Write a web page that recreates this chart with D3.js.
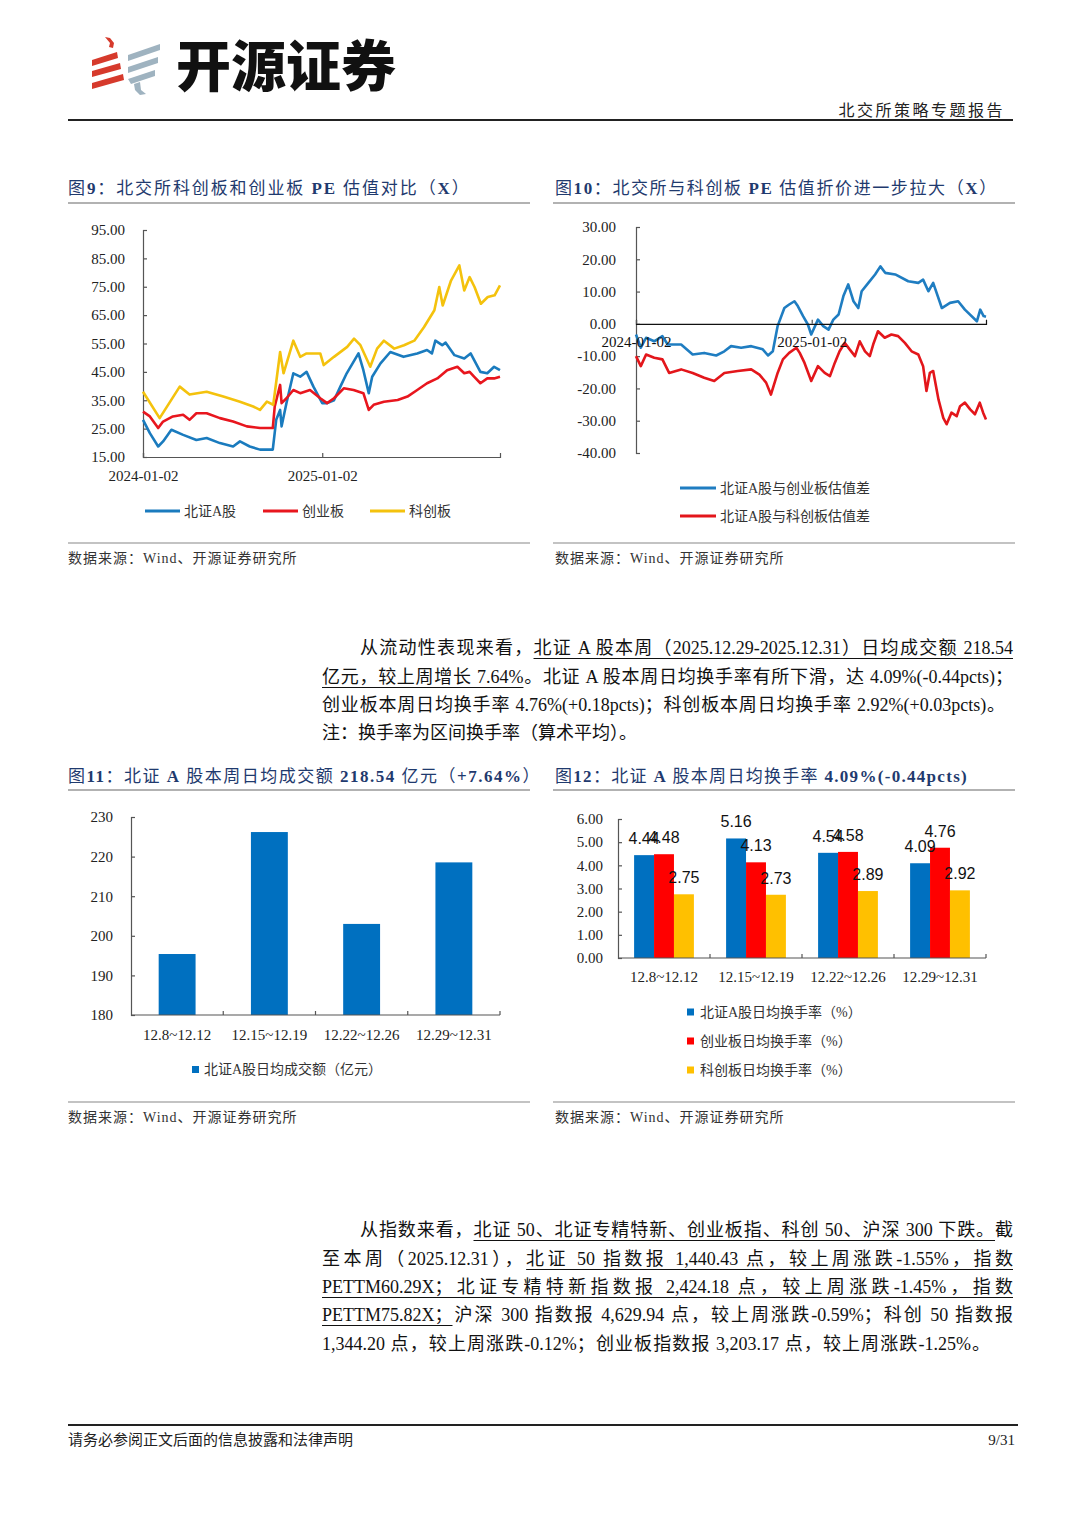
<!DOCTYPE html>
<html><head><meta charset="utf-8">
<script src="https://cdn.jsdelivr.net/npm/d3@7"></script>
<style>
html,body{margin:0;padding:0;background:#fff;}
#page{position:relative;width:1080px;height:1527px;overflow:hidden;background:#fff;}
svg{position:absolute;left:0;top:0;}
.ln{position:absolute;font-family:"Liberation Serif","Noto Sans CJK SC",serif;font-size:18px;line-height:28px;height:28px;color:#111;white-space:nowrap;}
.j{text-align:justify;text-align-last:justify;}
.ln u{text-decoration:underline;text-underline-offset:4px;text-decoration-thickness:1px;}
</style></head>
<body><div id="page"></div>
<script>
// ---------------- DATA ----------------
// Fig 9: PE (TTM) of 北证A股 / 创业板 / 科创板
const bjA_PE = [["2024-01-02",28.1],["2024-01-16",23.4],["2024-02-02",18.7],["2024-02-12",20.5],["2024-02-29",24.6],["2024-03-24",22.8],["2024-04-20",21.0],["2024-05-11",21.7],["2024-06-07",19.9],["2024-07-04",18.7],["2024-07-18",20.5],["2024-08-07",18.7],["2024-08-28",17.6],["2024-09-23",17.6],["2024-09-30",28.1],["2024-10-08",31.6],["2024-10-11",25.8],["2024-10-21",34.0],["2024-11-04",44.5],["2024-11-18",43.3],["2024-12-01",45.0],["2024-12-15",39.8],["2025-01-02",34.0],["2025-01-12",34.0],["2025-01-26",35.0],["2025-02-08",39.8],["2025-02-21",44.5],["2025-03-17",51.5],["2025-03-27",45.6],["2025-04-07",37.5],["2025-04-14",43.3],["2025-05-01",48.0],["2025-05-21",52.0],["2025-06-17",50.3],["2025-07-15",51.5],["2025-08-04",52.7],["2025-08-14",51.5],["2025-08-21",56.0],["2025-09-04",54.4],["2025-09-11",55.3],["2025-09-29",50.9],["2025-10-19",49.7],["2025-11-01",51.5],["2025-11-08",49.2],["2025-11-21",45.0],["2025-12-05",44.5],["2025-12-19",46.8],["2025-12-31",45.6]];
const cyb_PE = [["2024-01-02",31.0],["2024-01-16",29.3],["2024-02-02",25.2],["2024-02-12",27.5],["2024-03-03",29.3],["2024-03-24",29.9],["2024-04-06",28.1],["2024-04-20",30.4],["2024-05-11",30.4],["2024-06-07",28.7],["2024-07-04",27.5],["2024-08-01",25.8],["2024-08-28",25.2],["2024-09-23",25.2],["2024-09-27",32.8],["2024-10-08",40.4],["2024-10-11",34.0],["2024-10-21",35.7],["2024-11-04",38.6],["2024-11-18",37.5],["2024-12-08",38.6],["2024-12-29",35.7],["2025-01-12",34.0],["2025-01-26",35.7],["2025-02-15",39.2],["2025-03-07",38.6],["2025-03-27",37.5],["2025-04-07",31.6],["2025-04-17",33.4],["2025-05-08",34.5],["2025-06-05",35.1],["2025-06-25",36.3],["2025-07-15",38.6],["2025-08-04",41.0],["2025-08-25",42.7],["2025-09-14",45.6],["2025-10-05",46.8],["2025-10-19",44.5],["2025-10-30",45.0],["2025-11-08",43.3],["2025-11-21",41.0],["2025-12-05",42.7],["2025-12-19",42.7],["2025-12-31",43.3]];
const kcb_PE = [["2024-01-02",38.0],["2024-02-05",28.7],["2024-03-17",39.8],["2024-04-06",37.0],["2024-05-11",38.0],["2024-06-14",36.3],["2024-07-18",34.5],["2024-08-14",32.8],["2024-08-28",31.6],["2024-09-11",34.5],["2024-09-24",33.4],["2024-10-08",52.0],["2024-10-15",44.5],["2024-11-04",56.0],["2024-11-18",50.3],["2024-12-01",51.5],["2024-12-29",51.5],["2025-01-05",47.4],["2025-01-26",50.3],["2025-02-22",53.8],["2025-03-08",56.7],["2025-03-21",54.4],["2025-04-10",46.8],["2025-04-24",53.2],["2025-05-08",56.0],["2025-05-29",53.2],["2025-06-18",54.4],["2025-07-09",56.0],["2025-07-29",60.8],["2025-08-19",66.7],["2025-08-29",74.9],["2025-09-05",68.4],["2025-09-22",77.2],["2025-10-09",82.5],["2025-10-19",73.7],["2025-10-30",78.4],["2025-11-09",74.9],["2025-11-22",69.0],["2025-12-06",71.4],["2025-12-20",72.0],["2025-12-31",75.5]];
const fig9YTicks = [15,25,35,45,55,65,75,85,95];
const fig9XTicks = ["2024-01-02","2025-01-02"];
const fig9Names = ["北证A股","创业板","科创板"];

// Fig 10: PE gaps
const gapVsCyb = [["2024-01-02",-3.3],["2024-01-12",-7.4],["2024-01-23",-4.3],["2024-02-09",-5.4],["2024-02-26",-3.8],["2024-03-08",-6.4],["2024-04-05",-6.4],["2024-04-29",-9.5],["2024-05-23",-9.0],["2024-06-17",-9.8],["2024-07-04",-8.5],["2024-07-18",-6.9],["2024-08-08",-7.4],["2024-08-29",-6.9],["2024-09-22",-7.9],["2024-10-03",-9.8],["2024-10-13",-8.5],["2024-10-23",-0.7],["2024-11-06",4.9],["2024-11-16",6.0],["2024-11-27",7.0],["2024-12-04",5.5],["2024-12-15",2.4],["2024-12-25",-0.2],["2025-01-01",-3.3],["2025-01-15",1.3],["2025-01-26",-0.7],["2025-02-06",-1.8],["2025-02-16",1.3],["2025-02-27",2.9],["2025-03-09",8.6],["2025-03-19",12.2],["2025-03-30",7.0],["2025-04-09",4.9],["2025-04-16",10.1],["2025-04-30",12.7],["2025-05-14",15.3],["2025-05-25",17.8],["2025-06-04",15.8],["2025-06-25",15.3],["2025-07-22",13.2],["2025-08-12",12.7],["2025-08-22",13.7],["2025-09-02",10.1],["2025-09-12",12.7],["2025-09-30",4.9],["2025-10-17",6.5],["2025-11-03",7.0],["2025-11-17",4.4],["2025-12-12",0.8],["2025-12-19",4.4],["2025-12-26",2.4],["2025-12-31",2.2]];
const gapVsKcb = [["2024-01-02",-10.0],["2024-01-12",-13.1],["2024-01-23",-9.5],["2024-02-09",-10.5],["2024-02-26",-11.0],["2024-03-11",-15.2],["2024-04-05",-14.1],["2024-04-29",-15.2],["2024-05-23",-16.7],["2024-06-13",-17.7],["2024-07-04",-15.2],["2024-08-01",-14.6],["2024-08-29",-14.1],["2024-09-15",-15.7],["2024-09-29",-18.2],["2024-10-09",-21.9],["2024-10-23",-15.2],["2024-11-03",-11.0],["2024-11-16",-9.0],["2024-12-01",-7.4],["2024-12-08",-9.0],["2024-12-18",-12.1],["2025-01-01",-17.7],["2025-01-15",-13.1],["2025-01-29",-15.2],["2025-02-09",-16.2],["2025-02-19",-12.1],["2025-03-01",-8.5],["2025-03-12",-5.9],["2025-03-22",-7.9],["2025-04-02",-10.0],["2025-04-12",-5.4],["2025-04-23",-8.5],["2025-05-03",-10.0],["2025-05-10",-6.4],["2025-05-20",-2.3],["2025-06-03",-4.3],["2025-06-17",-3.3],["2025-07-01",-3.8],["2025-07-15",-5.9],["2025-07-29",-8.5],["2025-08-12",-9.5],["2025-08-22",-13.1],["2025-08-29",-20.8],["2025-09-05",-15.2],["2025-09-12",-14.6],["2025-09-23",-23.4],["2025-10-03",-29.1],["2025-10-10",-31.1],["2025-10-20",-27.5],["2025-10-31",-28.6],["2025-11-07",-25.5],["2025-11-17",-24.4],["2025-11-28",-26.5],["2025-12-08",-28.0],["2025-12-18",-24.4],["2025-12-25",-27.5],["2025-12-31",-29.6]];
const fig10YTicks = [-40,-30,-20,-10,0,10,20,30];
const fig10XTicks = ["2024-01-02","2025-01-02"];
const fig10Names = ["北证A股与创业板估值差","北证A股与科创板估值差"];

// Fig 11 / 12: weekly data
const weeks = ["12.8~12.12","12.15~12.19","12.22~12.26","12.29~12.31"];
const bjAmount = [195.4, 226.2, 203.0, 218.54];
const fig11YTicks = [180,190,200,210,220,230];
const fig11Name = "北证A股日均成交额（亿元）";
const bjTurnover  = [4.44, 5.16, 4.54, 4.09];
const cybTurnover = [4.48, 4.13, 4.58, 4.76];
const kcbTurnover = [2.75, 2.73, 2.89, 2.92];
const fig12YTicks = [0,1,2,3,4,5,6];
const fig12Names = ["北证A股日均换手率（%）","创业板日均换手率（%）","科创板日均换手率（%）"];

// ---------------- DRAW ----------------
const SERIF = '"Liberation Serif","Noto Sans CJK SC",serif';
const CJK = '"Noto Sans CJK SC",sans-serif';
const SANS = '"Liberation Sans","Noto Sans CJK SC",sans-serif';
const NAVY = "#1F3A6E";
const AX = "#555";
const parse = d3.timeParse("%Y-%m-%d");
const fmt2 = d => (+d).toFixed(2);   // plain hyphen minus like the reference
const page = d3.select("#page");
const svg = page.append("svg").attr("width",1080).attr("height",1527);

function hline(x1,x2,y,color,w){svg.append("line").attr("x1",x1).attr("x2",x2).attr("y1",y).attr("y2",y).attr("stroke",color).attr("stroke-width",w);}
function txt(x,y,s,opt={}){
  return svg.append("text").attr("x",x).attr("y",y).text(s)
    .attr("font-family",opt.ff||SERIF).attr("font-size",opt.fs||14)
    .attr("fill",opt.fill||"#333").attr("text-anchor",opt.anchor||"start")
    .attr("dominant-baseline","central").attr("letter-spacing",opt.ls||0)
    .attr("font-weight",opt.fw||"normal");
}
function title(x,y,parts,ls){
  const t=svg.append("text").attr("x",x).attr("y",y).attr("font-family",SERIF).attr("font-size",17)
    .attr("fill",NAVY).attr("dominant-baseline","central").attr("letter-spacing",ls);
  parts.forEach(([s,b])=>t.append("tspan").text(s).attr("font-weight",b?"bold":"normal"));
}
function styleAxis(g){
  g.select(".domain").attr("stroke",AX).attr("stroke-width",1.2);
  g.selectAll(".tick line").attr("stroke",AX).attr("stroke-width",1.2);
  g.selectAll(".tick text").attr("font-family",SERIF).attr("font-size",15).attr("fill","#222");
}

// Header / logo
const logoRed="#D63A2C", logoGray="#9FB3C0";
[[[105,37],[110,38],[114,43],[113,48],[109,47],[110,43]],
 [[92,60],[117,52],[118,58],[92,66]],
 [[92,71],[120,63],[121,69],[92,77]],
 [[92,83],[123,74],[124,80],[92,89]]].forEach(p=>svg.append("polygon").attr("points",p.join(" ")).attr("fill",logoRed));
[[[128,55],[160,44],[160,50],[128,61]],
 [[128,67],[158,57],[158,63],[128,73]],
 [[128,79],[155,70],[155,76],[131,84]],
 [[134,84],[140,82],[141,90],[146,94],[140,95],[135,90]]].forEach(p=>svg.append("polygon").attr("points",p.join(" ")).attr("fill",logoGray));
svg.append("text").attr("x",176).attr("y",86).text("开源证券").attr("font-family",CJK)
  .attr("font-size",55).attr("font-weight",900).attr("fill","#111");
txt(1005,110,"北交所策略专题报告",{fs:16,anchor:"end",ls:2.5,fill:"#222"});
hline(68,1013,120,"#222",2);

// Titles
title(68,188,[["图",0],["9",1],["：北交所科创板和创业板 ",0],["PE",1],[" 估值对比（",0],["X",1],["）",0]],1.9);
title(555,188,[["图",0],["10",1],["：北交所与科创板 ",0],["PE",1],[" 估值折价进一步拉大（",0],["X",1],["）",0]],1.6);
hline(68,530,203,"#999",1.6); hline(553,1015,203,"#999",1.6);
title(68,776,[["图",0],["11",1],["：北证 ",0],["A",1],[" 股本周日均成交额 ",0],["218.54",1],[" 亿元（",0],["+7.64%",1],["）",0]],1.5);
title(555,776,[["图",0],["12",1],["：北证 ",0],["A",1],[" 股本周日均换手率 ",0],["4.09%(-0.44pcts)",1]],1.3);
hline(68,530,790,"#999",1.6); hline(553,1015,790,"#999",1.6);

// Source lines
hline(68,530,543,"#888",1.2); hline(553,1015,543,"#888",1.2);
txt(68,558,"数据来源：Wind、开源证券研究所",{fs:14,ls:1});
txt(555,558,"数据来源：Wind、开源证券研究所",{fs:14,ls:1});
hline(68,530,1102,"#888",1.2); hline(553,1015,1102,"#888",1.2);
txt(68,1117,"数据来源：Wind、开源证券研究所",{fs:14,ls:1});
txt(555,1117,"数据来源：Wind、开源证券研究所",{fs:14,ls:1});

// Footer
hline(68,1018,1425,"#222",2);
txt(68,1440,"请务必参阅正文后面的信息披露和法律声明",{fs:15,fill:"#222"});
txt(1015,1440,"9/31",{fs:15,anchor:"end",fill:"#222"});

// ---------- Fig 9 ----------
{
  const x=d3.scaleTime().domain([parse("2024-01-02"),parse("2025-12-31")]).range([143,500]);
  const y=d3.scaleLinear().domain([15,95]).range([457,230]);
  const gy=svg.append("g").attr("transform","translate(143,0)")
    .call(d3.axisLeft(y).tickValues(fig9YTicks).tickFormat(fmt2).tickSize(-4).tickPadding(18));
  styleAxis(gy);
  const gx=svg.append("g").attr("transform","translate(0,457)")
    .call(d3.axisBottom(x).tickValues(fig9XTicks.map(parse)).tickFormat(d3.timeFormat("%Y-%m-%d")).tickSize(-4).tickPadding(13));
  styleAxis(gx);
  const line=d3.line().x(d=>x(parse(d[0]))).y(d=>y(d[1]));
  const cols=["#1A7BBE","#E8161E","#F4C20D"];
  [bjA_PE,cyb_PE,kcb_PE].forEach((s,i)=>svg.append("path").datum(s).attr("d",line)
    .attr("fill","none").attr("stroke",cols[i]).attr("stroke-width",2.6).attr("stroke-linejoin","round"));
  const lx=[145,263,370];
  fig9Names.forEach((n,i)=>{
    hline(lx[i],lx[i]+35,511,cols[i],3);
    txt(lx[i]+39,511,n,{fs:14,fill:"#333"});
  });
}

// ---------- Fig 10 ----------
{
  const x=d3.scaleTime().domain([parse("2024-01-02"),parse("2025-12-31")]).range([636,986]);
  const y=d3.scaleLinear().domain([-40,30]).range([453,227]);
  const gy=svg.append("g").attr("transform","translate(636,0)")
    .call(d3.axisLeft(y).tickValues(fig10YTicks).tickFormat(fmt2).tickSize(-4).tickPadding(20));
  styleAxis(gy);
  const line=d3.line().x(d=>x(parse(d[0]))).y(d=>y(d[1]));
  const cols=["#1F7DC1","#E3161B"];
  [gapVsCyb,gapVsKcb].forEach((s,i)=>svg.append("path").datum(s).attr("d",line)
    .attr("fill","none").attr("stroke",cols[i]).attr("stroke-width",2.6).attr("stroke-linejoin","round"));
  const gx=svg.append("g").attr("transform",`translate(0,${y(0)})`)
    .call(d3.axisBottom(x).tickValues(fig10XTicks.map(parse)).tickFormat(d3.timeFormat("%Y-%m-%d")).tickSize(-4).tickPadding(13));
  styleAxis(gx);
  gx.select(".domain").attr("stroke","#111");
  gx.selectAll(".tick text").attr("fill","#111");
  fig10Names.forEach((n,i)=>{
    const yy=488+i*28;
    hline(680,716,yy,cols[i],3);
    txt(720,yy,n,{fs:14,fill:"#333"});
  });
}

// ---------- Fig 11 ----------
{
  const x=d3.scaleBand().domain(weeks).range([131,500]).paddingInner(0.6).paddingOuter(0.3);
  const y=d3.scaleLinear().domain([180,230]).range([1015,817]);
  const gy=svg.append("g").attr("transform","translate(131,0)")
    .call(d3.axisLeft(y).tickValues(fig11YTicks).tickFormat(d3.format("d")).tickSize(-4).tickPadding(18));
  styleAxis(gy);
  svg.append("g").selectAll("rect").data(weeks).join("rect")
    .attr("x",d=>x(d)).attr("width",x.bandwidth())
    .attr("y",(d,i)=>y(bjAmount[i])).attr("height",(d,i)=>y(180)-y(bjAmount[i]))
    .attr("fill","#0070C0");
  hline(131,500,1015,AX,1.2);
  const step=x.step();
  [1,2,3,4].forEach(k=>svg.append("line").attr("x1",131+k*step).attr("x2",131+k*step)
    .attr("y1",1015).attr("y2",1011).attr("stroke",AX).attr("stroke-width",1.2));
  weeks.forEach(w=>txt(x(w)+x.bandwidth()/2,1035,w,{fs:15,anchor:"middle",fill:"#222"}));
  svg.append("rect").attr("x",192).attr("y",1066).attr("width",7).attr("height",7).attr("fill","#0070C0");
  txt(204,1069,fig11Name,{fs:14,fill:"#333"});
}

// ---------- Fig 12 ----------
{
  const x=d3.scaleBand().domain(weeks).range([618,986]).paddingInner(0.35).paddingOuter(0.175);
  const keys=["bj","cyb","kcb"];
  const xs=d3.scaleBand().domain(keys).range([0,x.bandwidth()]);
  const y=d3.scaleLinear().domain([0,6]).range([958,819]);
  const gy=svg.append("g").attr("transform","translate(618,0)")
    .call(d3.axisLeft(y).tickValues(fig12YTicks).tickFormat(fmt2).tickSize(-4).tickPadding(15));
  styleAxis(gy);
  const series={bj:bjTurnover,cyb:cybTurnover,kcb:kcbTurnover};
  const cols={bj:"#0070C0",cyb:"#FF0000",kcb:"#FFC000"};
  keys.forEach(k=>{
    svg.append("g").selectAll("rect").data(weeks).join("rect")
      .attr("x",d=>x(d)+xs(k)).attr("width",xs.bandwidth())
      .attr("y",(d,i)=>y(series[k][i])).attr("height",(d,i)=>y(0)-y(series[k][i]))
      .attr("fill",cols[k]);
  });
  keys.forEach(k=>{
    weeks.forEach((w,i)=>{
      svg.append("text").attr("x",x(w)+xs(k)+xs.bandwidth()/2).attr("y",y(series[k][i])-11)
        .attr("text-anchor","middle").attr("font-family",SANS).attr("font-size",16).attr("fill","#111")
        .text(fmt2(series[k][i]));
    });
  });
  hline(618,986,958,AX,1.2);
  const step=x.step();
  [1,2,3,4].forEach(k=>svg.append("line").attr("x1",618+k*step).attr("x2",618+k*step)
    .attr("y1",958).attr("y2",954).attr("stroke",AX).attr("stroke-width",1.2));
  weeks.forEach(w=>txt(x(w)+x.bandwidth()/2,977,w,{fs:15,anchor:"middle",fill:"#222"}));
  keys.forEach((k,i)=>{
    const yy=1012+i*29;
    svg.append("rect").attr("x",687).attr("y",yy-3.5).attr("width",7).attr("height",7).attr("fill",cols[k]);
    txt(700,yy,fig12Names[i],{fs:14,fill:"#333"});
  });
}

// ---------- Body text ----------
const paraLines = [
  [360,634,653,true,'从流动性表现来看，<u>北证 A 股本周（2025.12.29-2025.12.31）日均成交额 218.54</u>'],
  [322,663,691,true,'<u>亿元，较上周增长 7.64%</u>。北证 A 股本周日均换手率有所下滑，达 4.09%(-0.44pcts)；'],
  [322,691,683,true,'创业板本周日均换手率 4.76%(+0.18pcts)；科创板本周日均换手率 2.92%(+0.03pcts)。'],
  [322,719,0,false,'注：换手率为区间换手率（算术平均）。'],
  [360,1216,653,true,'从指数来看，<u>北证 50、北证专精特新、创业板指、科创 50、沪深 300 下跌。</u>截'],
  [322,1245,691,true,'至本周（2025.12.31），<u>北证 50 指数报 1,440.43 点，较上周涨跌-1.55%，指数</u>'],
  [322,1273,691,true,'<u>PETTM60.29X；北证专精特新指数报 2,424.18 点，较上周涨跌-1.45%，指数</u>'],
  [322,1301,691,true,'<u>PETTM75.82X；</u>沪深 300 指数报 4,629.94 点，较上周涨跌-0.59%；科创 50 指数报'],
  [322,1330,668,true,'1,344.20 点，较上周涨跌-0.12%；创业板指数报 3,203.17 点，较上周涨跌-1.25%。']
];
paraLines.forEach(([l,t,w,j,h])=>{
  const d=page.append("div").attr("class","ln"+(j?" j":"")).style("left",l+"px").style("top",t+"px").html(h);
  if(w) d.style("width",w+"px");
});
</script>
</body></html>
